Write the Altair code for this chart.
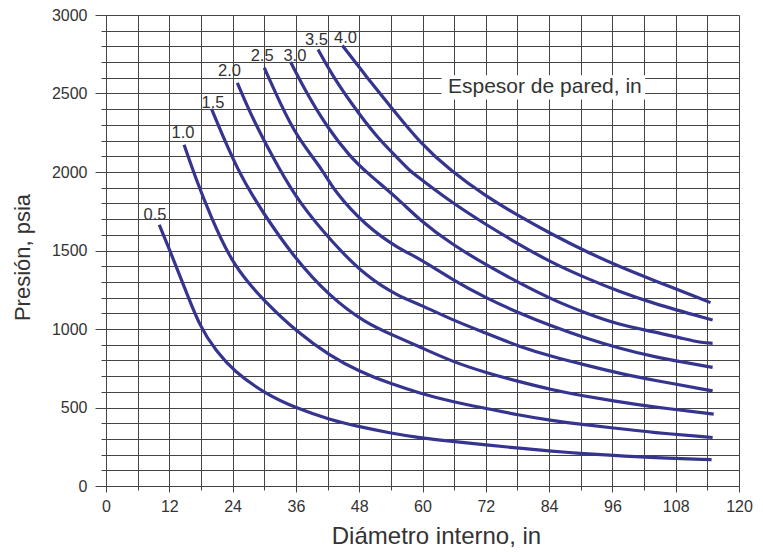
import altair as alt
import pandas as pd

# Wall thickness (in) of each curve
thickness = ["0.5", "1.0", "1.5", "2.0", "2.5", "3.0", "3.5", "4.0"]

# Inner diameter (in) and pressure (psia)
d_05 = [10.1, 12.1, 14.6, 17.8, 21.0, 24.1, 30.4, 36.1, 42.4, 48.1, 53.8, 59.4, 65.7, 72.1, 78.4, 84.7, 89.7, 96.0, 103.6, 114.8]
p_05 = [1664, 1500, 1290, 1010, 855, 735, 582, 496, 422, 377, 338, 307, 284, 262, 240, 222, 208, 195, 181, 168]

d_10 = [14.8, 17.0, 19.7, 24.1, 30.4, 36.1, 42.4, 48.1, 53.8, 59.4, 65.7, 72.1, 78.4, 84.7, 89.7, 96.0, 103.6, 115.0]
p_10 = [2174, 1960, 1730, 1398, 1164, 985, 830, 728, 653, 592, 536, 494, 451, 415, 395, 370, 341, 309]

d_15 = [20.0, 25.0, 29.8, 35.5, 42.4, 49.3, 54.4, 59.4, 65.7, 72.1, 78.4, 84.7, 89.7, 96.0, 103.6, 115.2]
p_15 = [2402, 2000, 1738, 1462, 1206, 1036, 961, 887, 791, 721, 664, 611, 579, 543, 504, 458]

d_20 = [24.9, 27.9, 32.9, 36.7, 43.0, 49.3, 55.6, 59.4, 65.7, 72.1, 78.4, 84.7, 91.0, 97.3, 103.6, 115.0]
p_20 = [2568, 2330, 2015, 1802, 1547, 1334, 1205, 1158, 1057, 973, 887, 823, 770, 717, 675, 606]

d_25 = [30.0, 33.0, 36.1, 41.5, 43.0, 49.3, 55.6, 59.4, 65.7, 72.1, 78.4, 84.7, 91.0, 97.3, 103.6, 115.0]
p_25 = [2664, 2440, 2227, 1994, 1890, 1653, 1510, 1450, 1313, 1196, 1100, 1015, 941, 877, 823, 756]

d_30 = [35.0, 38.0, 41.8, 46.2, 49.5, 55.6, 59.4, 65.7, 72.1, 78.4, 84.7, 91.0, 97.3, 103.6, 109.9, 113.0, 115.0]
p_30 = [2700, 2504, 2291, 2100, 1994, 1823, 1695, 1536, 1408, 1292, 1185, 1100, 1026, 985, 935, 912, 909]

d_35 = [40.2, 43.0, 46.9, 51.2, 55.6, 57.7, 59.4, 65.7, 72.1, 78.4, 84.7, 91.0, 97.3, 103.6, 115.0]
p_35 = [2780, 2610, 2419, 2227, 2078, 2004, 1962, 1802, 1664, 1536, 1419, 1324, 1238, 1164, 1057]

d_40 = [44.8, 49.3, 54.4, 59.4, 65.4, 72.1, 78.4, 84.7, 91.0, 97.3, 103.6, 114.6]
p_40 = [2806, 2610, 2398, 2190, 2005, 1844, 1717, 1600, 1493, 1398, 1313, 1168]

diameters = [d_05, d_10, d_15, d_20, d_25, d_30, d_35, d_40]
pressures = [p_05, p_10, p_15, p_20, p_25, p_30, p_35, p_40]

# Axis grid / tick values
x_ticks = list(range(0, 121, 6))
y_ticks = list(range(0, 3001, 100))

# Curve label anchor points (data units)
label_x = [9.3, 14.6, 20.3, 23.4, 29.6, 35.8, 39.9, 45.4]
label_y = [1724, 2246, 2439, 2645, 2740, 2740, 2840, 2853]

# Legend title annotation
legend_text = ["Espesor de pared, in"]
legend_x = [83.2]
legend_y = [2540]
legend_box_x = [63.6]
legend_box_x2 = [102.2]
legend_box_y = [2461]
legend_box_y2 = [2616]

rows = []
for t, ds, ps in zip(thickness, diameters, pressures):
    for i, (d, p) in enumerate(zip(ds, ps)):
        rows.append({"t": t, "d": d, "p": p, "i": i})
curves = pd.DataFrame(rows)
labels = pd.DataFrame({"t": thickness, "x": label_x, "y": label_y})
legend = pd.DataFrame({"text": legend_text, "x": legend_x, "y": legend_y,
                       "bx": legend_box_x, "bx2": legend_box_x2,
                       "by": legend_box_y, "by2": legend_box_y2})

FONT = "Liberation Sans"
GRID = "#444444"
TXT = "#333333"
LINE = "#353590"

xscale = alt.Scale(domain=[0, 120], nice=False)
yscale = alt.Scale(domain=[0, 3000], nice=False)

xaxis = alt.Axis(
    values=x_ticks, format="d",
    labelExpr="datum.value % 12 === 0 ? datum.label : ''",
    grid=True, gridColor=GRID, gridWidth=1, gridOpacity=1,
    tickColor=GRID, domainColor=GRID,
    tickSize={"condition": {"test": "datum.value % 12 === 0", "value": 6}, "value": 4},
    labelFont=FONT, labelFontSize=16, labelColor=TXT, labelPadding=6,
    labelFlush=False, labelOverlap=False,
    title="Diámetro interno, in", titleFont=FONT, titleFontSize=24,
    titleFontWeight="normal", titleColor=TXT,
    titleX=330, titleY=57, titleBaseline="alphabetic",
)
yaxis = alt.Axis(
    values=y_ticks, format="d",
    labelExpr="datum.value % 500 === 0 ? datum.label : ''",
    grid=True, gridColor=GRID, gridWidth=1, gridOpacity=1,
    tickColor=GRID, domainColor=GRID,
    tickSize={"condition": {"test": "datum.value % 500 === 0", "value": 11}, "value": 5},
    labelFont=FONT, labelFontSize=16, labelColor=TXT, labelPadding=8,
    labelFlush=False, labelOverlap=False,
    title="Presión, psia", titleFont=FONT, titleFontSize=22,
    titleFontWeight="normal", titleColor=TXT,
    titleAngle=270, titleX=-77, titleY=242, titleBaseline="alphabetic",
)

lines = alt.Chart(curves).mark_line(
    color=LINE, strokeWidth=3.2, interpolate="basis", strokeCap="butt"
).encode(
    x=alt.X("d:Q", scale=xscale, axis=xaxis),
    y=alt.Y("p:Q", scale=yscale, axis=yaxis),
    detail="t:N",
    order="i:Q",
)

curve_labels = alt.Chart(labels).mark_text(
    font=FONT, fontSize=16.5, color=TXT, baseline="middle", align="center"
).encode(
    x=alt.X("x:Q", scale=xscale, axis=xaxis),
    y=alt.Y("y:Q", scale=yscale, axis=yaxis),
    text="t:N",
)

legend_box = alt.Chart(legend).mark_rect(color="white").encode(
    x=alt.X("bx:Q", scale=xscale, axis=xaxis),
    x2="bx2:Q",
    y=alt.Y("by:Q", scale=yscale, axis=yaxis),
    y2="by2:Q",
)
legend_label = alt.Chart(legend).mark_text(
    font=FONT, fontSize=21, color=TXT, baseline="middle", align="center"
).encode(
    x=alt.X("x:Q", scale=xscale, axis=xaxis),
    y=alt.Y("y:Q", scale=yscale, axis=yaxis),
    text="text:N",
)

chart = alt.layer(lines, legend_box, legend_label, curve_labels).properties(
    width=633, height=471,
    autosize=alt.AutoSizeParams(type="none"),
    padding={"left": 98, "top": 7, "right": 14, "bottom": 62},
    background="white",
).configure_view(strokeWidth=0)

chart.save("out.html", embed_options={"renderer": "svg", "actions": False})
